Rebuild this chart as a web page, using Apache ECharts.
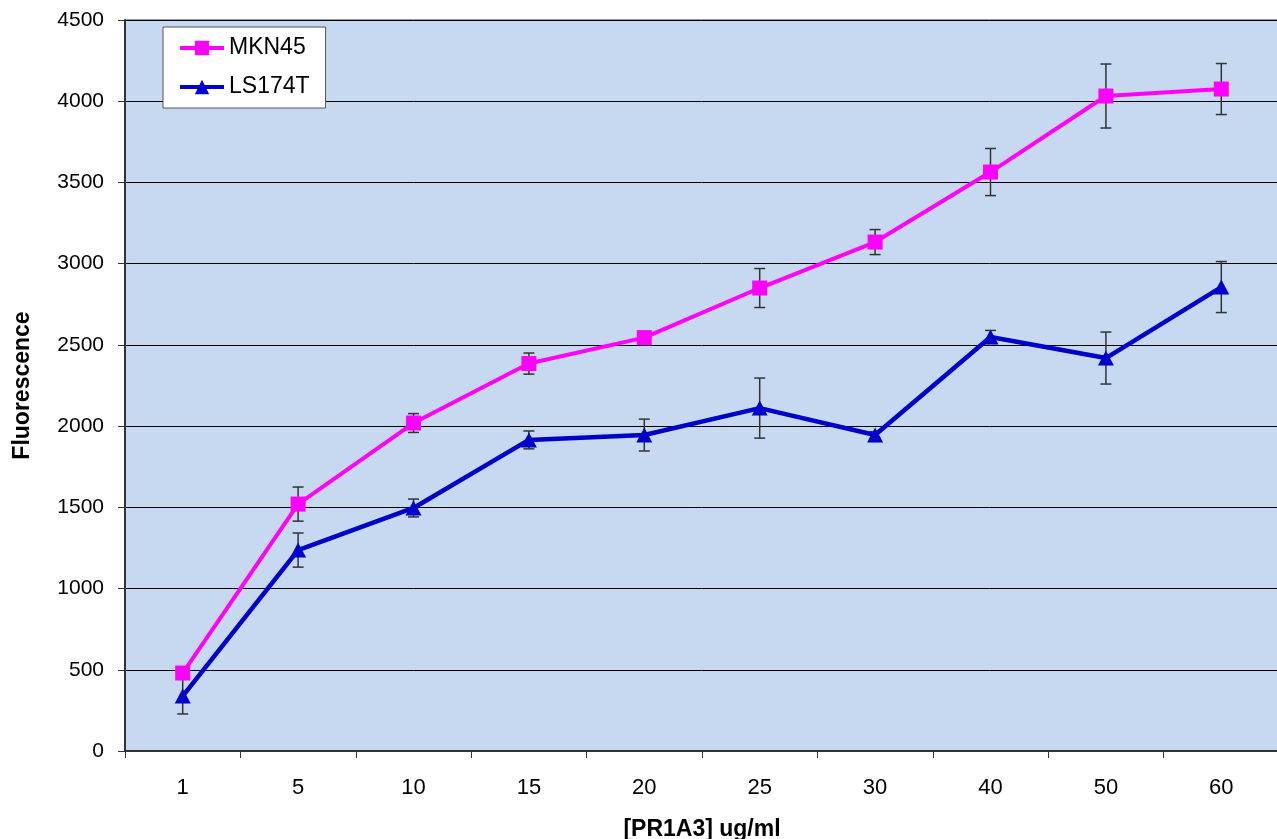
<!DOCTYPE html>
<html>
<head>
<meta charset="utf-8">
<script src="https://cdn.jsdelivr.net/npm/echarts@6/dist/echarts.min.js"></script>
<style>
html,body{margin:0;padding:0;background:#fff;}
#chart{width:1277px;height:839px;}
</style>
</head>
<body>
<div id="chart"></div>
<script>
var categories = ['1','5','10','15','20','25','30','40','50','60'];
var mkn45 = [480, 1520, 2019, 2385, 2545, 2850, 3133, 3564, 4032, 4075];
var mkn45Err = [25, 105, 58, 65, 20, 120, 77, 145, 197, 157];
var ls174t = [338, 1237, 1496, 1915, 1945, 2111, 1945, 2549, 2419, 2856];
var ls174tErr = [110, 105, 55, 55, 98, 185, 20, 40, 160, 157];
var yTicks = [0, 500, 1000, 1500, 2000, 2500, 3000, 3500, 4000, 4500];

function errData(vals, errs) {
  return vals.map(function (v, i) { return [i, v - errs[i], v + errs[i]]; });
}
function renderErr(params, api) {
  var x = api.value(0);
  var lo = api.coord([x, api.value(1)]);
  var hi = api.coord([x, api.value(2)]);
  var hw = 5.5;
  var style = { stroke: '#333333', lineWidth: 1.5, fill: null };
  return {
    type: 'group',
    children: [
      { type: 'line', shape: { x1: lo[0], y1: lo[1], x2: hi[0], y2: hi[1] }, style: style },
      { type: 'line', shape: { x1: lo[0] - hw, y1: lo[1], x2: lo[0] + hw, y2: lo[1] }, style: style },
      { type: 'line', shape: { x1: hi[0] - hw, y1: hi[1], x2: hi[0] + hw, y2: hi[1] }, style: style }
    ]
  };
}

var chart = echarts.init(document.getElementById('chart'));
var FONT = '"Liberation Sans", Arial, sans-serif';
chart.setOption({
  animation: false,
  textStyle: { fontFamily: FONT },
  grid: {
    left: 125, top: 20, width: 1154, height: 731,
    containLabel: false,
    outerBoundsMode: 'none',
    show: true, backgroundColor: '#C6D9F0', borderColor: '#9a9a9a', borderWidth: 2
  },
  legend: {
    orient: 'vertical',
    left: 163, top: 27,
    padding: [8, 16, 8, 15],
    backgroundColor: '#ffffff',
    borderColor: '#555',
    borderWidth: 1,
    borderRadius: 0,
    itemWidth: 44,
    itemHeight: 18,
    itemGap: 13,
    lineStyle: { width: 4 },
    textStyle: { fontFamily: FONT, fontSize: 23, color: '#000', lineHeight: 26 },
    data: ['MKN45', 'LS174T']
  },
  xAxis: {
    type: 'category',
    data: categories,
    boundaryGap: true,
    name: '[PR1A3] ug/ml',
    nameLocation: 'middle',
    nameGap: 67,
    nameTextStyle: { fontFamily: FONT, fontSize: 23, fontWeight: 'bold', color: '#000' },
    axisLine: { lineStyle: { color: '#333', width: 2 } },
    axisTick: { show: true, length: 7, inside: false, lineStyle: { color: '#333', width: 1 } },
    axisLabel: { fontFamily: FONT, fontSize: 22, color: '#000', margin: 26 },
    splitLine: { show: false }
  },
  yAxis: {
    type: 'value',
    min: 0, max: 4500, interval: 500,
    name: 'Fluorescence',
    nameLocation: 'middle',
    nameGap: 91,
    nameRotate: 90,
    nameTextStyle: { fontFamily: FONT, fontSize: 23, fontWeight: 'bold', color: '#000' },
    axisLine: { show: true, lineStyle: { color: '#333', width: 2 } },
    axisTick: { show: true, length: 7, lineStyle: { color: '#333', width: 1 } },
    axisLabel: {
      fontFamily: FONT, fontSize: 21, color: '#000', margin: 21,
      formatter: function (v) { return yTicks.indexOf(v) >= 0 ? String(v) : ''; }
    },
    splitLine: { show: true, lineStyle: { color: '#000', width: 1 } }
  },
  series: [
    {
      type: 'custom', name: 'errMKN', renderItem: renderErr,
      data: errData(mkn45, mkn45Err), z: 1, silent: true
    },
    {
      type: 'custom', name: 'errLS', renderItem: renderErr,
      data: errData(ls174t, ls174tErr), z: 1, silent: true
    },
    {
      name: 'MKN45', type: 'line', data: mkn45, z: 3,
      symbol: 'rect', symbolSize: 15,
      lineStyle: { color: '#FF00FF', width: 4 },
      itemStyle: { color: '#FF00FF' }
    },
    {
      name: 'LS174T', type: 'line', data: ls174t, z: 3,
      symbol: 'triangle', symbolSize: [16, 15],
      lineStyle: { color: '#0000CC', width: 4.5 },
      itemStyle: { color: '#0000CC' }
    }
  ]
});
</script>
</body>
</html>
